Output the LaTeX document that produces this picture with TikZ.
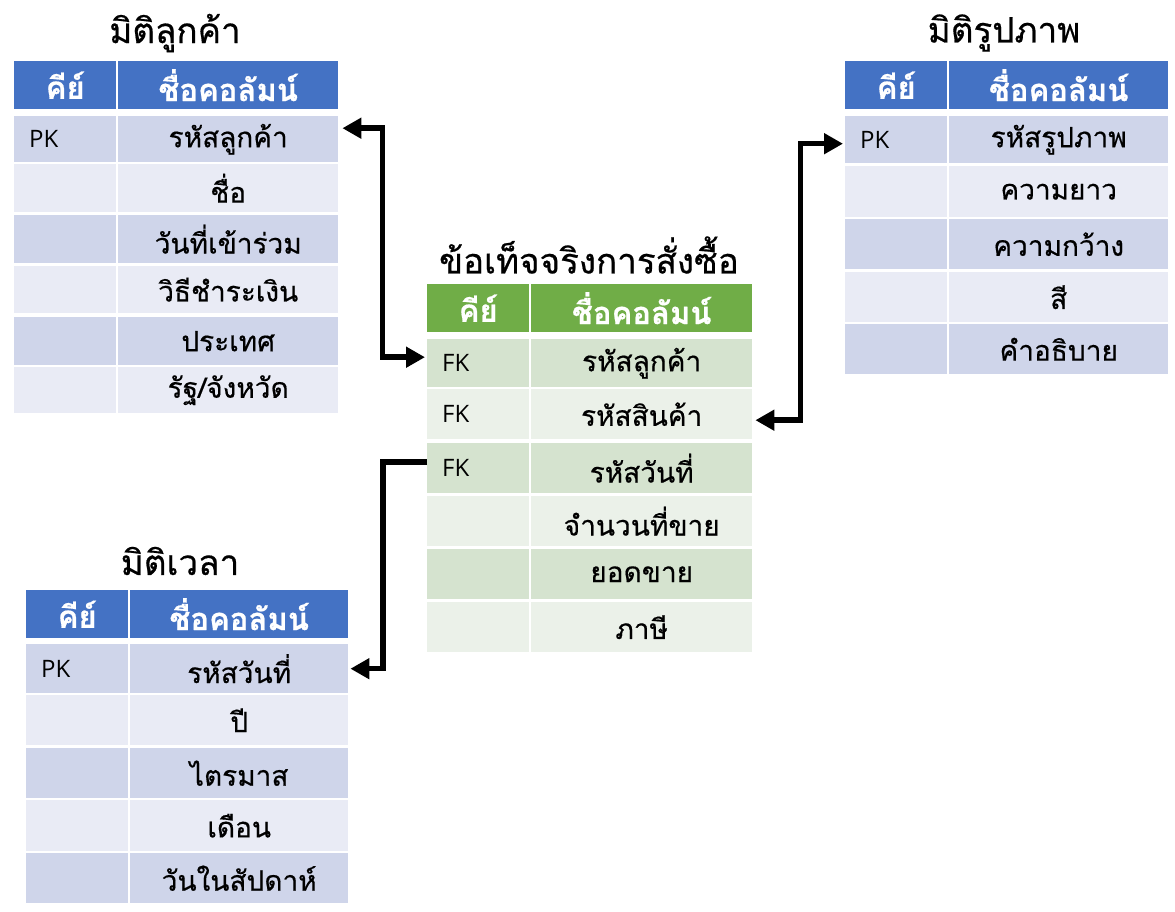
\documentclass[tikz,border=0pt]{standalone}
\usepackage{fontspec}
\usetikzlibrary{arrows.meta}
\newfontfamily\thai[Script=Thai,FakeBold=0.5]{Loma}
\newfontfamily\thaihead[Script=Thai,BoldFeatures={FakeBold=0.6}]{Loma}
\newfontfamily\latinf{Open Sans}
\definecolor{hblue}{HTML}{4472C4}
\definecolor{bdark}{HTML}{CFD5EA}
\definecolor{blight}{HTML}{E9EBF5}
\definecolor{hgreen}{HTML}{70AD47}
\definecolor{gdark}{HTML}{D5E3CF}
\definecolor{glight}{HTML}{EBF1E9}
\newcommand\setcols[4]{\def\xa{#1}\def\xb{#2}\def\xc{#3}\def\xd{#4}}
\newcommand\trow[5]{%
  \node[cellbox,fill=#4,minimum width=\xb pt-\xa pt,minimum height=#3pt-#2pt,anchor=north west] (#1k) at (\xa,#2) {};
  \node[cellbox,fill=#4,minimum width=\xd pt-\xc pt,minimum height=#3pt-#2pt,anchor=north west] (#1n) at (\xc,#2) {#5};}
\newcommand\thead[4]{%
  \node[cellbox,headtxt,fill=#4,minimum width=\xb pt-\xa pt,minimum height=#3pt-#2pt,anchor=north west] (#1k) at (\xa,#2) {คีย์};
  \node[cellbox,headtxt,fill=#4,minimum width=\xd pt-\xc pt,minimum height=#3pt-#2pt,anchor=north west] (#1n) at (\xc,#2) {ชื่อคอลัมน์};}
\newcommand\keytext[3]{\node[keytxt,anchor=west] (#1) at ([xshift=15pt]#2.west) {#3};}
\tikzset{
  cellbox/.style={draw=none,inner sep=0pt,font=\thai\fontsize{28}{32}\selectfont,text=black},
  headtxt/.style={font=\thaihead\bfseries\fontsize{31}{34}\selectfont,text=white},
  keytxt/.style={inner sep=0pt,font=\latinf\fontsize{24}{26}\selectfont,text=black},
  titletxt/.style={inner sep=0pt,font=\thai\fontsize{35}{38}\selectfont,text=black},
  conn/.style={line width=5.5pt,draw=black},
  bigtip/.tip={Triangle[length=19pt,width=20pt]}
}
\begin{document}
\begin{tikzpicture}[x=1pt,y=-1pt]
\useasboundingbox[fill=white] (0,0) rectangle (1175,912);
% customer dimension
\node[titletxt] (tL) at (175,33) {มิติลูกค้า};
\setcols{14}{116}{118}{338}
\thead{L0}{61}{109}{hblue}
\trow{L1}{116}{162}{bdark}{รหัสลูกค้า}
\trow{L2}{164}{212}{blight}{ชื่อ}
\trow{L3}{215}{263}{bdark}{วันที่เข้าร่วม}
\trow{L4}{266}{313}{blight}{วิธีชำระเงิน}
\trow{L5}{317}{365}{bdark}{ประเทศ}
\trow{L6}{367}{413}{blight}{รัฐ/จังหวัด}
\keytext{L1kt}{L1k}{PK}
% image dimension
\node[titletxt] (tR) at (1004,33) {มิติรูปภาพ};
\setcols{845}{947}{949}{1168}
\thead{R0}{61}{109}{hblue}
\trow{R1}{116}{163}{bdark}{รหัสรูปภาพ}
\trow{R2}{166}{217}{blight}{ความยาว}
\trow{R3}{219}{269}{bdark}{ความกว้าง}
\trow{R4}{272}{322}{blight}{สี}
\trow{R5}{324}{374}{bdark}{คำอธิบาย}
\keytext{R1kt}{R1k}{PK}
% fact table
\node[titletxt] (tF) at (589,255) {ข้อเท็จจริงการสั่งซื้อ};
\setcols{427}{529}{531}{752}
\thead{F0}{284}{332}{hgreen}
\trow{F1}{339}{387}{gdark}{รหัสลูกค้า}
\trow{F2}{389}{439}{glight}{รหัสสินค้า}
\trow{F3}{443}{493}{gdark}{รหัสวันที่}
\trow{F4}{496}{546}{glight}{จำนวนที่ขาย}
\trow{F5}{549}{599}{gdark}{ยอดขาย}
\trow{F6}{602}{652}{glight}{ภาษี}
\keytext{F1kt}{F1k}{FK}
\keytext{F2kt}{F2k}{FK}
\keytext{F3kt}{F3k}{FK}
% time dimension
\node[titletxt] (tB) at (180,561) {มิติเวลา};
\setcols{26}{128}{130}{348}
\thead{B0}{590}{638}{hblue}
\trow{B1}{644}{693}{bdark}{รหัสวันที่}
\trow{B2}{695}{745}{blight}{ปี}
\trow{B3}{748}{798}{bdark}{ไตรมาส}
\trow{B4}{800}{851}{blight}{เดือน}
\trow{B5}{853}{903}{bdark}{วันในสัปดาห์}
\keytext{B1kt}{B1k}{PK}
% connectors
\draw[conn,bigtip-bigtip] ([xshift=4pt,yshift=11pt]L1n.east) -- ++(40,0) |- ([xshift=-2pt,yshift=6pt]F1k.west);
\draw[conn,bigtip-bigtip] ([xshift=3pt,yshift=-6pt]F2n.east) -- ++(45,0) |- ([xshift=-2pt,yshift=-4pt]R1k.west);
\draw[conn,-bigtip] ([yshift=6pt]F3k.west) -- ++(-44,0) |- ([xshift=2pt]B1n.east);
\end{tikzpicture}
\end{document}
